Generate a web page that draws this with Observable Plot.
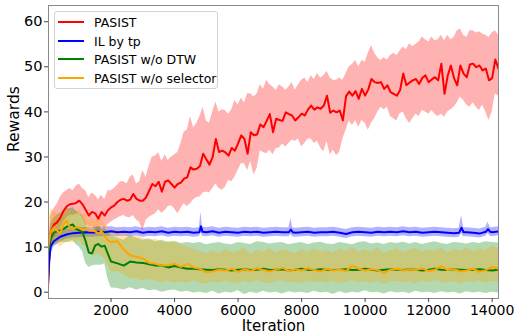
<!DOCTYPE html>
<html><head><meta charset="utf-8">
<script src="https://cdn.jsdelivr.net/npm/d3@7"></script>
<script src="https://cdn.jsdelivr.net/npm/@observablehq/plot@0.6"></script>
<style>
body{margin:0;background:#fff;}
#wrap{position:relative;width:515px;height:335px;font-family:"DejaVu Sans",sans-serif;}
#legend{position:absolute;left:54px;top:11px;width:164px;height:78px;border:1px solid #d4d4d4;border-radius:3px;background:rgba(255,255,255,0.8);box-sizing:border-box;}
.item{position:absolute;left:0;height:18px;display:flex;align-items:center;font-size:12.5px;color:#000;white-space:nowrap;}
.sw{width:26px;height:2px;margin-left:3px;margin-right:10px;}
</style></head><body><div id="wrap"></div>
<script>
const seriesNames = ["PASIST", "IL by tp", "PASIST w/o DTW", "PASIST w/o selector"];
const seriesColors = ["#ff0000", "#0000ff", "#008000", "#ffa500"];
const xTicks = [2000, 4000, 6000, 8000, 10000, 12000, 14000];
const yTicks = [0, 10, 20, 30, 40, 50, 60];

// rows: [iteration, mean, lower, upper]
const pasist = [
[0,-1,-1.5,2],[100,13.5,10,17],[200,15,12,18.5],[300,15.5,13,19.5],[400,16.5,14,21],[500,18,15.5,22],
[600,19,16.5,22.5],[700,19.5,17,23],[800,19.6,17,22.5],[900,19.8,17.3,23.5],[1000,20.3,17.5,24],
[1100,19.5,16.5,23],[1200,18.3,15,22.5],[1300,17,14.4,21],[1400,17.8,14.5,22],[1500,17.5,14,21.5],
[1600,16.3,12.5,20.5],[1700,17.8,14.8,21.5],[1800,17,14,20.5],[1900,18.2,15,22.5],[2000,18.8,15.5,22.5],
[2100,19.2,16,23],[2200,20,16.4,23.7],[2300,20.5,16.8,24.5],[2400,20.7,17,24.5],[2500,20.3,16.6,24],
[2600,20.5,16.5,25.5],[2700,21.8,17,26],[2800,20.7,16,24],[2900,20.3,15.5,24.5],[3000,20.3,13.5,27],
[3100,21,15.9,25.5],[3200,22.5,16.6,28],[3300,24,17,30],[3400,23.5,17.4,30.2],[3500,24.5,18.3,31],
[3600,22.3,17.5,29],[3700,24.5,18.1,30.5],[3800,24.8,19,29.2],[3900,24,19.2,30],[4000,23.2,18.5,30.5],
[4100,24,17.4,31],[4200,24.3,18.5,33],[4300,25.2,19.6,35.5],[4400,25.5,19,36],[4500,27.7,19.6,39],
[4600,27.2,20.5,36.5],[4700,27.4,21,37.5],[4800,28,21.1,39],[4900,30.7,22,41],[5000,29.5,22.2,38],
[5100,28.3,22,37.5],[5200,30,23,40],[5300,34,24,42.2],[5400,31.1,23,40],[5500,31.4,22.6,40.5],
[5600,31,23.3,40.3],[5700,30.3,24.8,39.5],[5800,32,24.5,40.5],[5900,31.4,25.5,42.5],[6000,33,27,41.5],
[6100,34.8,28.5,43],[6200,34,28.5,42],[6300,30.7,27,44],[6400,35.5,29,44],[6500,34.8,26,43.3],
[6600,35,27.5,44],[6700,37.2,31.4,46],[6800,36.6,31,45],[6900,38,30.7,47],[7000,39.5,31.5,46],
[7100,35.5,30.5,45.5],[7200,38.5,31.8,44.8],[7300,38.2,32,46],[7400,38,32.9,45.5],[7500,39.9,32.2,44.8],
[7600,39.5,33,45.5],[7700,39.2,33.7,46.5],[7800,38.1,33.5,44.8],[7900,38.8,34,46],[8000,39.6,32.2,47],
[8100,39.2,33,47.5],[8200,40.5,34,46.5],[8300,41.4,34,48],[8400,40.5,33,47.2],[8500,41,33.5,48.5],
[8600,40.7,32,47.5],[8700,41.4,31.1,48],[8800,43.6,33.5,49],[8900,39.8,30.5,47.5],[9000,40.3,31.5,47],
[9100,39.9,30.3,47],[9200,40.3,31,47.5],[9300,38.1,34,47],[9400,43.5,35.9,48.5],[9500,44.5,38,50],
[9600,43.6,37,50.5],[9700,44.6,38.1,51.4],[9800,42.9,36.6,50],[9900,45.1,38.1,51.4],[10000,43.6,37.5,51],
[10100,45,35.9,53],[10200,47.3,37.5,54.7],[10300,46.6,38.5,53],[10400,46.4,40,52],[10500,46.6,41,51.4],
[10600,45.1,40.5,52],[10700,45.9,41,51.5],[10800,44.4,39,52.5],[10900,44,38.5,53],[11000,43.6,38,52.5],
[11100,44.8,39.6,53.5],[11200,48.5,40,54.4],[11300,45.9,38.5,53.8],[11400,46.5,37.4,55.1],[11500,47,38.5,54.5],
[11600,47.3,39.5,55],[11700,46.2,39,55.5],[11800,47.5,40.3,56.6],[11900,48.1,40,56],[12000,46.6,39.5,55.5],
[12100,47.2,40.3,56.6],[12200,47.7,39.5,55.8],[12300,47,39,56],[12400,50.7,39.5,57],[12500,44,38.8,55.8],
[12600,48,40,57],[12700,50.3,40.5,56],[12800,47.5,41,56.5],[12900,45.9,42,58],[13000,50.3,43.3,58.4],
[13100,48.5,42.5,57],[13200,47.7,41.5,56.5],[13300,50.5,41,58],[13400,50.7,42,58],[13500,49.9,41,57.5],
[13600,50.3,40.3,57.8],[13700,49.2,41.5,57.3],[13800,49.6,40,57],[13900,47,38.1,56.5],[14000,47.5,40,57.5],
[14100,51.6,44,58],[14200,49.6,43.5,57]
];

const ilByTp = [
[0,0,-1,1],[50,7,5,9],[100,10.2,8.5,11.8],[200,11.3,10,12.6],[300,11.8,10.6,13],[400,12.3,11.2,13.4],
[600,12.8,11.8,13.9],[800,13.1,12,14.2],[1000,13.2,12.1,14.3],[1200,13.3,12.2,14.4],[1400,13.2,12.2,14.3],
[1600,13.4,12.3,14.5],[1800,13.3,12.3,14.4],[2000,13.5,12.4,14.5],[2200,13.3,12.3,14.3],[2400,13.4,12.4,14.4],
[2600,13.3,12.3,14.3],[2800,13.5,12.5,14.5],[3000,13.2,12.2,14.2],[3200,13.4,12.4,14.4],[3400,13.3,12.3,14.3],
[3600,13.5,12.5,14.5],[3800,13.2,12.2,14.2],[4000,13.4,12.4,14.4],[4200,13.3,12.3,14.3],[4400,13.4,12.4,14.4],
[4600,13.2,12.2,14.2],[4780,13.3,12.3,14.3],[4830,14.6,13.2,17.8],[4880,13.4,12.4,14.4],[5000,13.3,12.3,14.3],
[5200,13.5,12.5,14.5],[5400,13.2,12.2,14.2],[5600,13.4,12.4,14.4],[5800,13.3,12.3,14.3],[6000,13.2,12.2,14.2],
[6200,13.4,12.4,14.4],[6400,13.3,12.3,14.3],[6600,13.4,12.4,14.4],[6800,13.2,12.2,14.2],[7000,13.3,12.3,14.3],
[7200,13.4,12.4,14.4],[7400,13.3,12.3,14.3],[7600,13.3,12.3,14.3],[7660,13.9,12.8,16.3],[7720,13.3,12.3,14.3],
[7800,13.2,12.2,14.2],[8000,13.3,12.3,14.3],[8200,13.4,12.4,14.4],[8400,13.2,12.2,14.2],[8600,13.3,12.3,14.3],
[8800,13.3,12.3,14.3],[9000,13.4,12.4,14.4],[9200,13.2,12.2,14.2],[9400,12.9,11.9,13.9],[9600,13.3,12.3,14.3],
[9800,13.4,12.4,14.4],[10000,13.3,12.3,14.3],[10200,13.2,12.2,14.2],[10400,13.4,12.4,14.4],[10600,13.3,12.3,14.3],
[10800,13.4,12.4,14.4],[11000,13.3,12.3,14.3],[11200,13.5,12.5,14.5],[11400,13.3,12.3,14.3],[11600,13.4,12.4,14.4],
[11800,13.2,12.2,14.2],[12000,13.3,12.3,14.3],[12200,13.4,12.4,14.4],[12400,13.3,12.3,14.3],[12600,13.2,12.2,14.2],
[12800,13.1,12.1,14.1],[12960,13.2,12.2,14.2],[13035,14.3,13,17],[13100,13.3,12.3,14.3],[13200,13.3,12.3,14.3],
[13400,13.2,12.2,14.2],[13600,13.0,12,14],[13800,13.4,12.4,14.4],[13870,14,13,15.5],[13940,13.4,12.4,14.4],
[14000,13.3,12.3,14.3],[14200,13.5,12.5,14.5]
];

const woDTW = [
[0,8,4,11],[100,12,9.5,15],[200,13.2,10.5,16.5],[300,13.5,10.8,17],[400,13.7,11,17.5],[500,14,11,18],
[600,14.5,11,18.5],[700,14.8,11.2,18.5],[800,15,11.5,18.8],[900,14,10.5,18],[1000,13.7,10,17.5],
[1100,13.3,9,17],[1200,11.3,6.5,15.5],[1300,8.8,5.5,13],[1400,8.6,5.8,12.5],[1500,10.4,6,14],
[1600,10.7,6,14.5],[1700,10.1,6,14],[1800,10.3,6.3,14],[1900,8.5,3,13.5],[2000,6.8,1,12.5],
[2200,6.4,0.8,12],[2400,5.9,0.5,11.5],[2600,6.8,1,12.5],[2800,6.6,0.5,12],[3000,6.5,0.8,11.5],
[3200,6.2,0.3,11.8],[3400,5.9,0.5,11.2],[3600,5.9,0,11.5],[3800,5.5,0.3,11],[4000,5.8,0.5,11.3],
[4200,5.5,0,10.8],[4400,5.2,0.2,11],[4600,5.2,-0.2,10.8],[4800,5.1,0,11],[5000,5.0,-0.3,10.5],
[5200,4.9,0.2,10.8],[5400,5.1,-0.4,11],[5600,5.0,0,10.7],[5800,4.8,-0.2,10.5],[6000,5.0,0.3,11],
[6200,5.1,-0.5,10.8],[6400,4.9,0,10.6],[6600,5.0,-0.3,11.2],[6800,5.2,0.2,11],[7000,4.9,-0.2,10.7],
[7200,5.0,0,10.9],[7400,5.1,-0.4,11],[7600,4.8,0.1,10.5],[7800,5.0,-0.2,10.8],[8000,5.2,0,11],
[8200,5.0,-0.3,10.6],[8400,4.9,0.2,10.9],[8600,5.1,-0.2,11.1],[8800,5.0,0,10.7],[9000,4.9,-0.5,10.6],
[9200,5.0,0.1,11],[9400,5.1,-0.3,10.8],[9600,4.9,0,10.5],[9800,5.0,-0.2,11],[10000,5.2,0.3,11.2],
[10200,5.0,-0.1,10.7],[10400,4.8,0,10.9],[10600,5.0,-0.4,10.6],[10800,5.1,0.1,11],[11000,5.0,-0.2,10.8],
[11200,4.9,0,11.1],[11400,5.1,-0.3,10.7],[11600,5.0,0.2,11],[11800,4.8,-0.1,10.6],[12000,5.0,0,10.9],
[12200,5.2,-0.3,11.2],[12400,5.0,0.1,10.8],[12600,4.9,-0.2,10.6],[12800,5.1,0,11],[13000,5.0,-0.4,10.9],
[13200,4.9,0.1,10.7],[13400,5.0,-0.2,11],[13600,5.1,0,10.8],[13800,4.9,-0.3,11.2],[14000,4.8,0,11],
[14200,5.0,-0.2,10.9]
];

const woSelector = [
[0,9,6,13],[100,13.5,10,18.5],[200,14.4,10.5,18],[300,13.7,10.5,17.5],[400,13,10,17],[500,15,10.5,18],
[600,15.9,11,18.5],[700,14.5,11,18],[800,14,11,17.5],[900,14.4,11,17.5],[1000,14.4,11.5,18.5],
[1100,13.8,10.5,17],[1200,14,10,17.5],[1300,13.7,9.5,16],[1400,13.7,8.5,16.5],[1500,13.5,8,16],
[1600,13,8.5,16],[1700,13.5,8,16.5],[1800,12.5,7.5,15],[1900,11.5,6,14.5],[2000,11.1,4.5,13.5],
[2200,11.3,4.5,14],[2400,9.5,4,13.5],[2600,8.2,3,12.5],[2800,7.8,3,12.5],[3000,7.5,2.5,12],
[3200,6.5,2.8,11.5],[3400,6.3,2.5,11.8],[3600,5.9,2,11],[3800,6,2.5,11.2],[4000,6.3,2,11],
[4200,5.6,2.3,10.5],[4400,6.3,2,10],[4600,5.5,2.5,9.5],[4800,5.2,2,9],[5000,4.4,1.8,8.5],
[5200,4.6,2.3,9.2],[5400,5.0,2,8.6],[5600,4.8,2.5,9.5],[5800,5.2,2.2,8.8],[6000,4.5,1.8,9],
[6200,5.1,2.4,9.8],[6400,4.7,2,8.4],[6600,5.3,2.6,9.3],[6800,4.9,2.1,8.9],[7000,4.6,1.9,9.6],
[7200,5.0,2.3,8.7],[7400,5.4,2.5,9.4],[7600,4.7,2,9],[7800,5.1,2.2,8.6],[8000,4.8,1.8,9.5],
[8200,5.3,2.4,8.8],[8400,4.9,2.1,9.7],[8600,4.6,2.3,8.9],[8800,5.2,2,9.3],[9000,4.8,2.5,8.7],
[9200,5.0,1.9,9.6],[9400,4.7,2.2,9],[9600,5.9,2.6,9.9],[9800,5.2,2.1,8.8],[10000,4.8,2.3,9.4],
[10200,5.1,1.9,8.9],[10400,4.9,2.4,9.8],[10600,4.3,1.8,8.5],[10800,5.0,2.2,9.2],[11000,5.2,2.5,9.6],
[11200,4.8,2,8.8],[11400,5.1,2.3,9.3],[11600,4.9,1.9,9.7],[11800,5.3,2.4,8.9],[12000,4.7,2.1,9.4],
[12200,5.0,2.6,9],[12400,5.8,2.2,9.8],[12600,4.9,2,8.7],[12800,5.1,2.4,9.5],[13000,4.6,1.8,9.1],
[13200,4.8,2.3,9.8],[13400,5.2,2.1,8.9],[13600,4.5,2.5,9.6],[13800,4.9,2,9.2],[14000,5.6,2.4,10.2],
[14200,5.2,2.2,9.7]
];

const allSeries = [pasist, ilByTp, woDTW, woSelector];
const font = '"DejaVu Sans", sans-serif';

const areas = allSeries.map((s, i) => Plot.areaY(s, {
  x: d => d[0], y1: d => d[2], y2: d => d[3], fill: seriesColors[i], fillOpacity: 0.3, clip: true
}));
const lines = allSeries.map((s, i) => Plot.lineY(s, {
  x: d => d[0], y: d => d[1], stroke: seriesColors[i], strokeWidth: 2, clip: true
}));

const chart = Plot.plot({
  width: 515, height: 335,
  marginLeft: 48, marginRight: 17, marginTop: 5, marginBottom: 37,
  style: {fontFamily: font, background: "#fff", color: "#000"},
  x: {domain: [30, 14200]},
  y: {domain: [-1.4, 63.6]},
  marks: [
    ...areas,
    ...lines,
    Plot.frame({stroke: "#8a8a8a", strokeWidth: 1}),
    Plot.axisX({ticks: xTicks, tickSize: 4, tickPadding: 3, fontSize: 14, label: null, stroke: "#444", tickFormat: d => String(d)}),
    Plot.axisY({ticks: yTicks, tickSize: 4, tickPadding: 2, fontSize: 14.5, label: null, stroke: "#444"}),
    Plot.text(["Iteration"], {frameAnchor: "bottom", dy: 32, fontSize: 15, fill: "#000"}),
    Plot.text(["Rewards"], {frameAnchor: "left", dx: -34, rotate: -90, fontSize: 15.5, fill: "#000"})
  ]
});

const wrap = document.getElementById("wrap");
wrap.appendChild(chart);

const legend = document.createElement("div");
legend.id = "legend";
const itemTops = [1, 20, 38, 57];
seriesNames.forEach((name, i) => {
  const it = document.createElement("div");
  it.className = "item";
  it.style.top = itemTops[i] + "px";
  const sw = document.createElement("span");
  sw.className = "sw";
  sw.style.background = seriesColors[i];
  const tx = document.createElement("span");
  tx.textContent = name;
  it.appendChild(sw); it.appendChild(tx);
  legend.appendChild(it);
});
wrap.appendChild(legend);
</script>
</body></html>
